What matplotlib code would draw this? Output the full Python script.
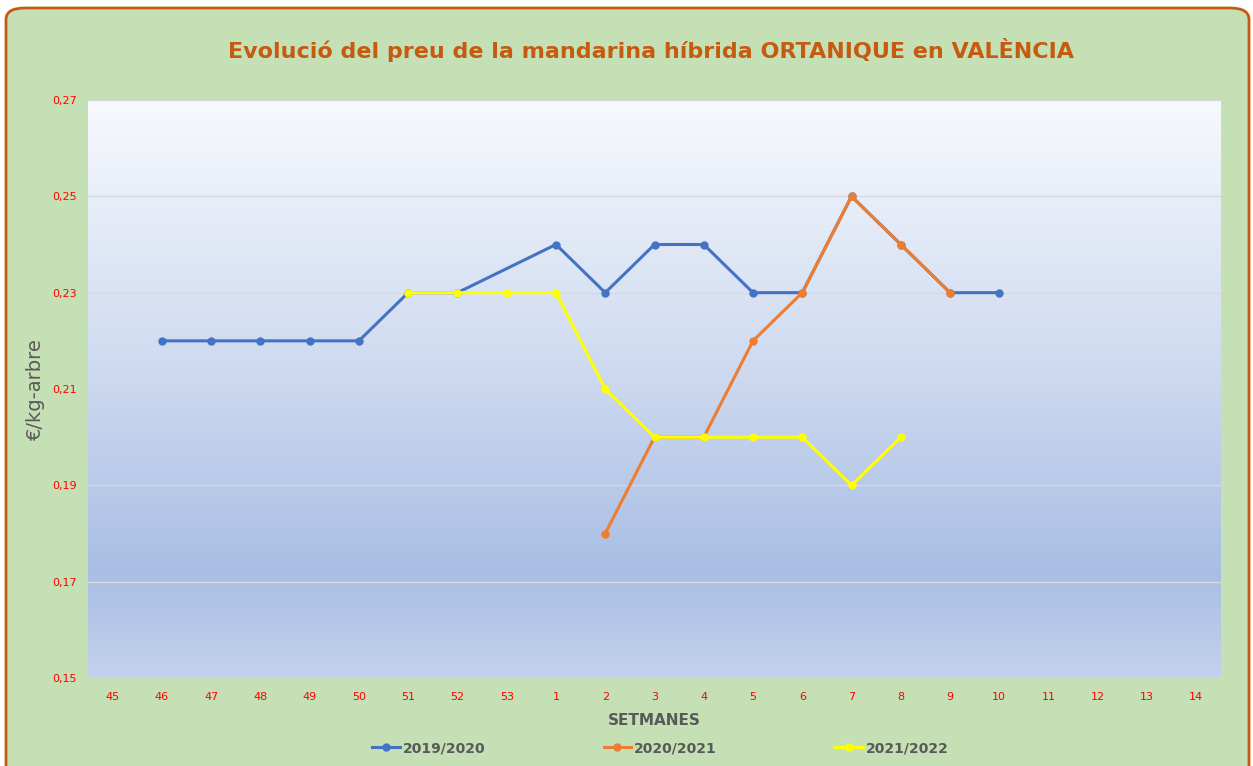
import numpy as np
import matplotlib
matplotlib.use("Agg")
import matplotlib.pyplot as plt
from matplotlib.patches import FancyBboxPatch
from matplotlib.colors import LinearSegmentedColormap
from matplotlib.ticker import FuncFormatter

weeks = ["45", "46", "47", "48", "49", "50", "51", "52", "53", "1", "2", "3",
         "4", "5", "6", "7", "8", "9", "10", "11", "12", "13", "14"]

# None = no value for that week
s2019 = [None, 0.22, 0.22, 0.22, 0.22, 0.22, 0.23, 0.23, None, 0.24, 0.23, 0.24,
         0.24, 0.23, 0.23, 0.25, 0.24, 0.23, 0.23, None, None, None, None]
s2020 = [None, None, None, None, None, None, None, None, None, None, 0.18, 0.20,
         0.20, 0.22, 0.23, 0.25, 0.24, 0.23, None, None, None, None, None]
s2021 = [None, None, None, None, None, None, 0.23, 0.23, 0.23, 0.23, 0.21, 0.20,
         0.20, 0.20, 0.20, 0.19, 0.20, None, None, None, None, None, None]

series = [("2019/2020", s2019, "#4472c4"),
          ("2020/2021", s2020, "#ed7d31"),
          ("2021/2022", s2021, "#ffff00")]

W, H = 1253, 766
fig = plt.figure(figsize=(W / 100, H / 100), dpi=100)
fig.patch.set_facecolor("white")

# green rounded frame
frame = FancyBboxPatch((6 / W, -20 / H), (W - 10) / W, (H - 8 + 20) / H,
                       boxstyle="round,pad=0,rounding_size=0.015",
                       transform=fig.transFigure, facecolor="#c5e0b4",
                       edgecolor="#c55a11", linewidth=2, zorder=-10)
fig.patches.append(frame)

ax = fig.add_axes([88 / W, 1 - 678 / H, (1221 - 88) / W, (678 - 100) / H])
ax.set_xlim(-0.5, len(weeks) - 0.5)
ax.set_ylim(0.15, 0.27)

# background gradient
grad = LinearSegmentedColormap.from_list(
    "bg", [(0.0, "#c3d2ec"), (0.18, "#a9bee4"), (0.55, "#cfdbf0"), (1.0, "#f7f9fd")])
ax.imshow(np.linspace(0, 1, 256).reshape(-1, 1), aspect="auto", cmap=grad,
          origin="lower", extent=(-0.5, len(weeks) - 0.5, 0.15, 0.27), zorder=0)

ax.set_yticks(np.arange(0.15, 0.2701, 0.02))
ax.yaxis.set_major_formatter(FuncFormatter(lambda v, p: f"{v:.2f}".replace(".", ",")))
ax.grid(axis="y", color="#d9d9d9", linewidth=1, zorder=1)
ax.set_xticks(range(len(weeks)))
ax.set_xticklabels(weeks)
ax.tick_params(axis="both", length=0, labelsize=8, labelcolor="#ff0000")
ax.tick_params(axis="x", pad=10)
ax.tick_params(axis="y", pad=8)
for sp in ax.spines.values():
    sp.set_visible(False)

for label, vals, col in series:
    xs = [i for i, v in enumerate(vals) if v is not None]
    ys = [v for v in vals if v is not None]
    ax.plot(xs, ys, color=col, linewidth=2.2, marker="o", markersize=5,
            label=label, zorder=3)

ax.set_xlabel("SETMANES", fontsize=11, fontweight="bold", color="#595959", labelpad=8)
ax.set_ylabel("€/kg-arbre", fontsize=14, color="#595959")
ax.yaxis.set_label_coords(-0.038, 0.5)

fig.text(651 / W, 1 - 50 / H, "Evolució del preu de la mandarina híbrida ORTANIQUE en VALÈNCIA",
         ha="center", va="center", fontsize=16, fontweight="bold", color="#c55a11")

leg = fig.legend(loc="center", bbox_to_anchor=(0.527, 1 - 748 / H), ncol=3,
                 frameon=False, columnspacing=8.5, handlelength=2.0, handletextpad=0.2,
                 prop={"weight": "bold", "size": 10})
for t in leg.get_texts():
    t.set_color("#595959")

fig.savefig("out.png", dpi=100)
